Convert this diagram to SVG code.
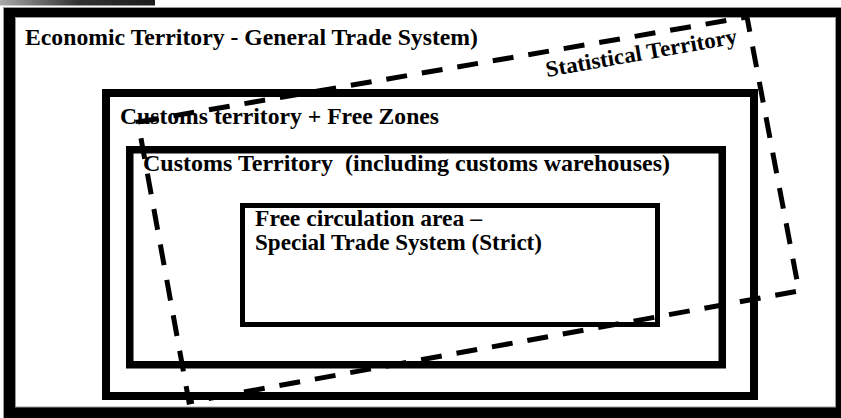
<svg xmlns="http://www.w3.org/2000/svg" width="841" height="418" viewBox="0 0 841 418">
<defs>
<linearGradient id="bar" x1="0" y1="0" x2="1" y2="0">
<stop offset="0" stop-color="#a8a8a8"/>
<stop offset="0.5" stop-color="#333333"/>
<stop offset="1" stop-color="#1c1c1c"/>
</linearGradient>
</defs>
<style>
.lbl{font-family:"Liberation Serif","DejaVu Serif",serif;font-weight:bold;fill:#000;}
.box{fill:none;stroke:#000;}
.dash{fill:none;stroke:#000;stroke-width:5;stroke-dasharray:21 15;stroke-linecap:butt;stroke-linejoin:miter;}
</style>
<rect x="0" y="0" width="841" height="418" fill="#fff"/>
<rect x="0" y="0" width="155" height="5.5" fill="url(#bar)"/>
<g id="economic-territory">
<rect x="3.5" y="7.5" width="845" height="420" fill="#000" stroke="#9a9a9a" stroke-width="1"/>
<rect x="15.5" y="17.5" width="820" height="389.5" fill="#fff" stroke="#9a9a9a" stroke-width="1"/>
<text class="lbl" x="25" y="45" font-size="23" textLength="453" lengthAdjust="spacingAndGlyphs">Economic Territory - General Trade System)</text>
</g>
<g id="customs-free-zones">
<rect class="box" x="106" y="93" width="648" height="303" stroke-width="8"/>
<text class="lbl" x="120" y="124" font-size="23" textLength="319" lengthAdjust="spacingAndGlyphs">Customs territory + Free Zones</text>
</g>
<g id="customs-territory">
<rect class="box" x="129.75" y="149.75" width="592.5" height="215" stroke-width="7.5"/>
<text class="lbl" x="143" y="171" font-size="23" textLength="527" lengthAdjust="spacingAndGlyphs" xml:space="preserve">Customs Territory  (including customs warehouses)</text>
</g>
<g id="free-circulation">
<rect class="box" x="242.5" y="205.5" width="415" height="119" stroke-width="5"/>
<text class="lbl" x="255" y="226" font-size="22.5" textLength="227" lengthAdjust="spacingAndGlyphs">Free circulation area –</text>
<text class="lbl" x="255" y="250" font-size="22.5" textLength="287" lengthAdjust="spacingAndGlyphs">Special Trade System (Strict)</text>
</g>
<g id="statistical-territory">
<polygon class="dash" points="138,122 747,17 799,291 189,402"/>
<text class="lbl" font-size="22.5" transform="translate(547,77) rotate(-10)" textLength="194" lengthAdjust="spacingAndGlyphs">Statistical Territory</text>
</g>
</svg>
